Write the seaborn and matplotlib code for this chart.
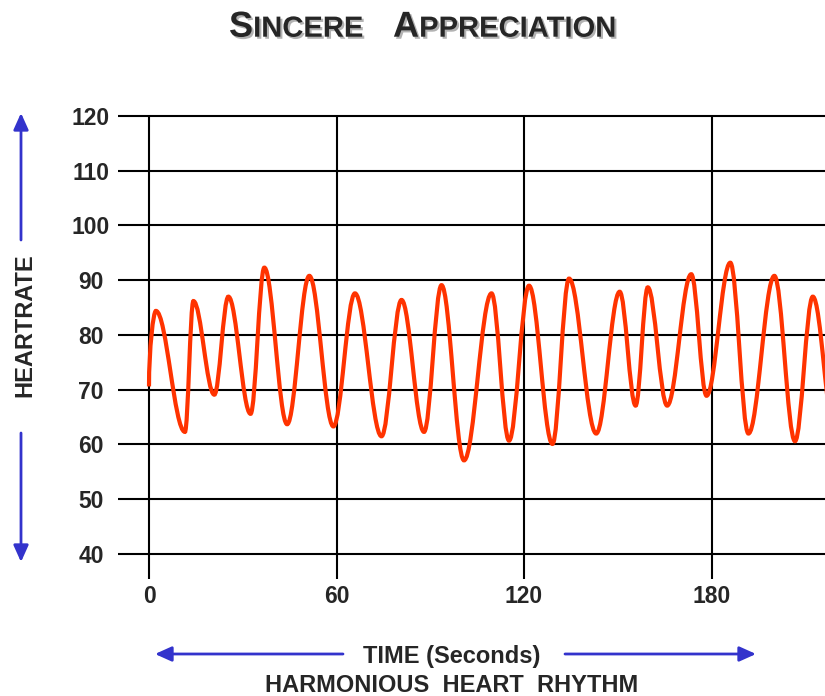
import matplotlib
matplotlib.use("Agg")
import matplotlib.pyplot as plt
import matplotlib.patheffects as pe
import seaborn as sns
from matplotlib.path import Path
from matplotlib.patches import PathPatch, FancyArrowPatch

# turning points of the heart-rate trace (seconds, beats per minute)
turn_times = [0.0, 2.2, 11.5, 14.2, 20.9, 25.4, 32.5, 36.9, 44.2, 51.3,
              59.0, 65.9, 74.4, 80.8, 88.0, 93.6, 100.8, 109.6, 115.2, 121.6,
              129.1, 134.4, 143.1, 150.6, 155.7, 159.6, 165.8, 173.5, 178.4, 186.0,
              191.8, 200.1, 206.7, 212.4, 219.5]
turn_rates = [70.6, 84.4, 62.3, 86.2, 69.1, 87.0, 65.6, 92.3, 63.7, 90.8,
              63.3, 87.6, 61.5, 86.4, 62.3, 89.1, 57.1, 87.6, 60.7, 89.0,
              60.1, 90.3, 62.0, 87.9, 67.1, 88.7, 67.1, 91.1, 68.9, 93.2,
              62.0, 90.8, 60.6, 87.0, 62.0]

time_ticks = [0, 60, 120, 180]
rate_ticks = [40, 50, 60, 70, 80, 90, 100, 110, 120]

W, H = 825, 696
LINE_RED = "#FF3300"
ARROW_BLUE = "#3333CC"


def smooth_trace(ts, vs, k=0.364):
    """Bezier path through the turning points, flat at each peak / trough."""
    verts = [(ts[0], vs[0])]
    codes = [Path.MOVETO]
    for i in range(1, len(ts)):
        t0, v0, t1, v1 = ts[i - 1], vs[i - 1], ts[i], vs[i]
        dt = t1 - t0
        c1 = (t0, (v0 + v1) / 2) if i == 1 else (t0 + k * dt, v0)
        c2 = (t1 - k * dt, v1)
        verts += [c1, c2, (t1, v1)]
        codes += [Path.CURVE4] * 3
    return Path(verts, codes)


def fig_xy(x, y):
    # pixel position measured from the top-left corner -> figure fraction
    return x / W, 1 - y / H


def blue_arrow(fig, start, end):
    arr = FancyArrowPatch(fig_xy(*start), fig_xy(*end), transform=fig.transFigure,
                          arrowstyle="-|>,head_length=1.0,head_width=0.45",
                          mutation_scale=10, color=ARROW_BLUE, lw=2,
                          shrinkA=0, shrinkB=0)
    fig.add_artist(arr)


sns.set_style("white")
plt.rcParams["font.family"] = ["Liberation Sans", "DejaVu Sans"]
plt.rcParams["font.weight"] = "bold"

fig = plt.figure(figsize=(W / 100, H / 100), dpi=100)
ax = fig.add_axes([118 / W, 1 - 579 / H, 707 / W, 463 / H])
ax.set_xlim(-9.92, 216.3)
ax.set_ylim(35.43, 120)

# grid: horizontal rules across the whole axes, vertical rules from the bottom up
ax.hlines(rate_ticks, 0, 1, transform=ax.get_yaxis_transform(),
          color="black", lw=1.5, clip_on=False, zorder=1)
ax.vlines(time_ticks, 0, 1, transform=ax.get_xaxis_transform(),
          color="black", lw=1.5, clip_on=False, zorder=1)

ax.add_patch(PathPatch(smooth_trace(turn_times, turn_rates), facecolor="none",
                       edgecolor=LINE_RED, lw=3, zorder=3))

for s in ax.spines.values():
    s.set_visible(False)

ax.set_xticks(time_ticks)
ax.set_xticklabels([str(t) for t in time_ticks], fontsize=16.5, fontweight="bold")
ax.set_yticks(rate_ticks)
ax.set_yticklabels([str(r) for r in rate_ticks], fontsize=16.5, fontweight="bold")
ax.tick_params(axis="y", length=0, pad=19.5)
ax.tick_params(axis="x", length=0, pad=4.5)
for lab in ax.get_yticklabels():
    lab.set_ha("center")

# title in small caps with a soft shadow
shadow = [pe.withSimplePatchShadow(offset=(1.5, -1.5), shadow_rgbFace="#808080", alpha=0.6)]
renderer = fig.canvas.get_renderer()
pieces = [("S", 26), ("INCERE", 21), ("A", 26), ("PPRECIATION", 21)]
x = 229
base = 1 - 36.7 / H
for text, size in pieces:
    if text == "A":
        x = 393
    t = fig.text(x / W, base, text, fontsize=size, fontweight="bold",
                 va="baseline", ha="left", path_effects=shadow)
    x += t.get_window_extent(renderer).width

fig.text(*fig_xy(25, 325), "HEARTRATE", rotation=90, ha="center", va="center",
         fontsize=17, fontweight="bold")
fig.text(*fig_xy(452, 657), "TIME (Seconds)", ha="center", va="center",
         fontsize=17, fontweight="bold")
fig.text(*fig_xy(452, 686), "HARMONIOUS  HEART  RHYTHM", ha="center", va="center",
         fontsize=17, fontweight="bold")

blue_arrow(fig, (21, 240), (21, 113))
blue_arrow(fig, (21, 433), (21, 562))
blue_arrow(fig, (343, 654), (155, 654))
blue_arrow(fig, (565, 654), (756, 654))

fig.savefig("out.png", dpi=100, facecolor="white")
